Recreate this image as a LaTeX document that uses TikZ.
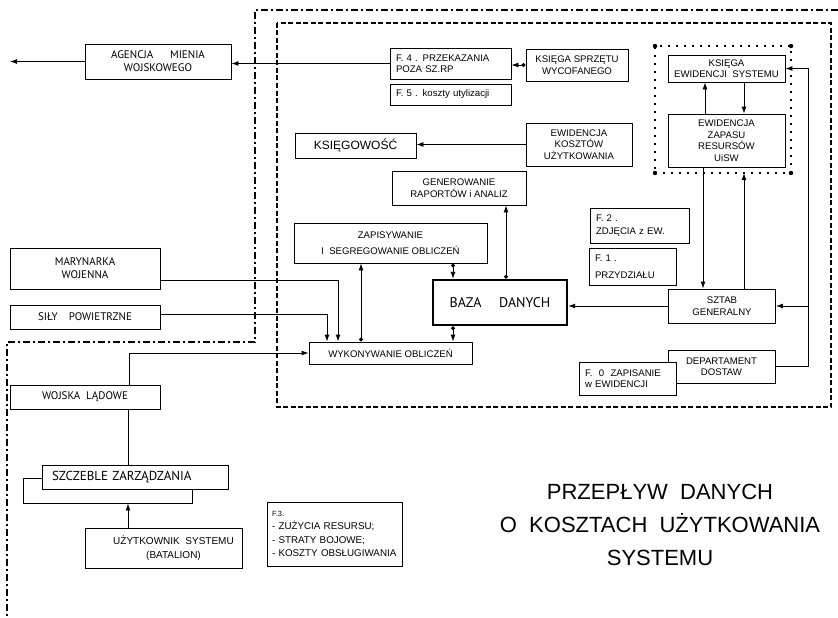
\documentclass[tikz,border=0pt]{standalone}
\usepackage{fontspec}
\setmainfont{Liberation Sans}
\newfontfamily\ptsans{PT Sans}
\usetikzlibrary{arrows.meta}
\begin{document}
\begin{tikzpicture}[x=1pt,y=-1pt,line width=0.9pt,
		wh/.style 2 args={minimum width=#1pt,minimum height=#2pt},
		lbox/.style={box,align=left,inner xsep=6pt,text width=#1pt}]
		\tikzstyle{box}=[draw,fill=white,inner sep=2pt,align=center,font=\fontsize{9.6}{11.5}\selectfont]
		\tikzstyle{pbox}=[box,font=\ptsans\fontsize{11}{13}\selectfont]
		\tikzstyle{bigbox}=[box,line width=2.4pt,font=\ptsans\fontsize{14}{16}\selectfont]
		\tikzstyle{grpbox}=[draw,line width=1.2pt,dash pattern=on 2pt off 6pt,outer sep=0pt]
		\tikzstyle{outer}=[draw,line width=2pt,dash pattern=on 7pt off 3pt on 2pt off 3pt]
		\tikzstyle{inner}=[draw,line width=2pt,dash pattern=on 5pt off 2.5pt]
		\tikzstyle{arrow}=[draw,-{Latex[length=7pt,width=5pt]}]
		\tikzstyle{dotarrow}=[draw,{Circle[length=4pt]}-{Latex[length=7pt,width=5pt]}]
		\useasboundingbox (0,0) rectangle (838,618);
		
		% borders
		\path[outer] (838,10) -- (255,10) -- (255,342) -- (7,342) -- (7,618);
		\path[inner] (277,23) rectangle (831,407);
		\node[grpbox,wh={136}{127}] (grp) at (723,109.5) {};
		\foreach \c in {north west,north east,south west,south east}
			\fill (grp.\c) circle (2.2pt);
		
		% top row
		\node[pbox,wh={146}{35}] (amw) at (158,61.5) {AGENCJA\quad\ \ MIENIA\\WOJSKOWEGO};
		\coordinate (exit) at (10,61.5);
		\node[lbox=109,wh={121}{31}] (f4) at (450.5,63.5) {F.\ 4 . PRZEKAZANIA\\POZA SZ.RP};
		\node[lbox=109,wh={121}{21}] (f5) at (450.5,94.5) {F.\ 5 . koszty utylizacji};
		\node[box,wh={102}{32}] (ksp) at (577,65) {KSIĘGA SPRZĘTU\\WYCOFANEGO};
		\node[box,inner xsep=1pt,wh={117}{27}] (kes) at (726.5,68.5) {KSIĘGA\\EWIDENCJI\ \ SYSTEMU};
		\node[box,wh={117}{53}] (ezr) at (726.5,140.5) {EWIDENCJA\\ZAPASU\\RESURSÓW\\UiSW};
		
		% middle
		\node[box,wh={121}{25},font=\fontsize{12}{14}\selectfont] (ksg) at (355.5,145.5) {KSIĘGOWOŚĆ};
		\node[box,wh={106}{43}] (ekw) at (579,144.5) {EWIDENCJA\\KOSZTÓW\\UŻYTKOWANIA};
		\node[box,wh={134}{34}] (gra) at (459,188) {GENEROWANIE\\RAPORTÓW i ANALIZ};
		\node[box,wh={193}{40}] (zso) at (390.5,243) {ZAPISYWANIE\\[5pt] I\ \ SEGREGOWANIE OBLICZEŃ};
		\node[lbox=87,wh={99}{35}] (f2) at (639.5,225.5) {F.\ 2 .\\[1pt]ZDJĘCIA z EW.};
		\node[lbox=75,wh={87}{37}] (f1) at (632.5,266.5) {F.\ 1 .\\[5pt]PRZYDZIAŁU};
		\node[bigbox,wh={134}{45}] (bd) at (500,302.5) {BAZA\quad\ DANYCH};
		\node[box,wh={107}{34}] (sgn) at (722,306) {SZTAB\\GENERALNY};
		\node[box,wh={107}{33}] (dd) at (721.5,366.5) {DEPARTAMENT\\DOSTAW};
		\node[lbox=85,wh={97}{33}] (f0) at (627.5,378.5) {F.\ \ 0\ \ ZAPISANIE\\w EWIDENCJI};
		\node[box,wh={163}{22}] (wyk) at (390.5,353) {WYKONYWANIE OBLICZEŃ};
		
		% left side
		\node[pbox,wh={150}{41}] (mw) at (85,268.5) {MARYNARKA\\WOJENNA};
		\node[pbox,wh={150}{24}] (sp) at (85,317) {SIŁY\quad POWIETRZNE};
		\node[pbox,wh={150}{24}] (wl) at (85,397) {WOJSKA\ \ LĄDOWE};
		\node[box,wh={169}{25}] (szb) at (107.5,490.5) {};
		\node[pbox,align=left,inner xsep=10pt,text width=166pt,wh={186}{24},font=\ptsans\fontsize{13}{15}\selectfont] (szz) at (135,477) {SZCZEBLE ZARZĄDZANIA};
		\node[box,wh={157}{40},font=\fontsize{10}{14}\selectfont] (usr) at (163.5,548) {\hspace*{20pt}UŻYTKOWNIK\ \ SYSTEMU\\\hspace*{20pt}(BATALION)};
		\node[lbox=125,inner xsep=5pt,wh={135}{64},font=\fontsize{9.8}{13.5}\selectfont] (f3) at (334.5,534) {{\fontsize{7.5}{9}\selectfont F.3.}\\- ZUŻYCIA RESURSU;\\- STRATY BOJOWE;\\- KOSZTY OBSŁUGIWANIA};
		
		\node[font=\fontsize{22}{33}\selectfont,align=center] (ttl) at (660,525) {PRZEPŁYW\ \ DANYCH\\O\ \ KOSZTACH\ \ UŻYTKOWANIA\\SYSTEMU};
		
		% connectors
		\path[arrow] (amw.west) -- (exit);
		\path[arrow] (f4.west) -- (f4.west -| amw.east);
		\path[dotarrow] (ksp.west) -- (ksp.west -| f4.east);
		\path[arrow] (ekw.west) -- (ekw.west -| ksg.east);
		\path[arrow] (ezr.north -| 705,0) -- (kes.south -| 705,0);
		\path[arrow] (kes.south -| 744,0) -- (ezr.north -| 744,0);
		\path[arrow] (ezr.south -| 703,0) -- (sgn.north -| 703,0);
		\path[arrow] (sgn.north -| 744,0) -- (grp.south -| 744,0);
		\draw (dd.east) -- ++(33,0) coordinate (bus);
		\path[arrow] (bus) |- (kes.east);
		\path[arrow] (bus |- sgn.east) -- (sgn.east);
		\path[arrow] (sgn.west) -- (sgn.west -| bd.east);
		\path[dotarrow] (bd.north -| 506,0) -- (gra.south -| 506,0);
		\path[dotarrow] (zso.south -| 453,0) -- (bd.north -| 453,0);
		\path[dotarrow] (bd.south -| 453,0) -- (wyk.north -| 453,0);
		\path[dotarrow] (wyk.north -| 361,0) -- (zso.south -| 361,0);
		\path[arrow] (mw.east |- 0,280) -| (wyk.north -| 338,0);
		\path[arrow] (sp.east |- 0,314) -| (wyk.north -| 327,0);
		\path[arrow] (wl.north -| 129,0) |- (wyk.west);
		\draw (wl.south -| 128,0) -- (szz.north -| 128,0);
		\path[arrow] (usr.north -| 128,0) -- (szb.south -| 128,0);
		
\end{tikzpicture}
\end{document}
